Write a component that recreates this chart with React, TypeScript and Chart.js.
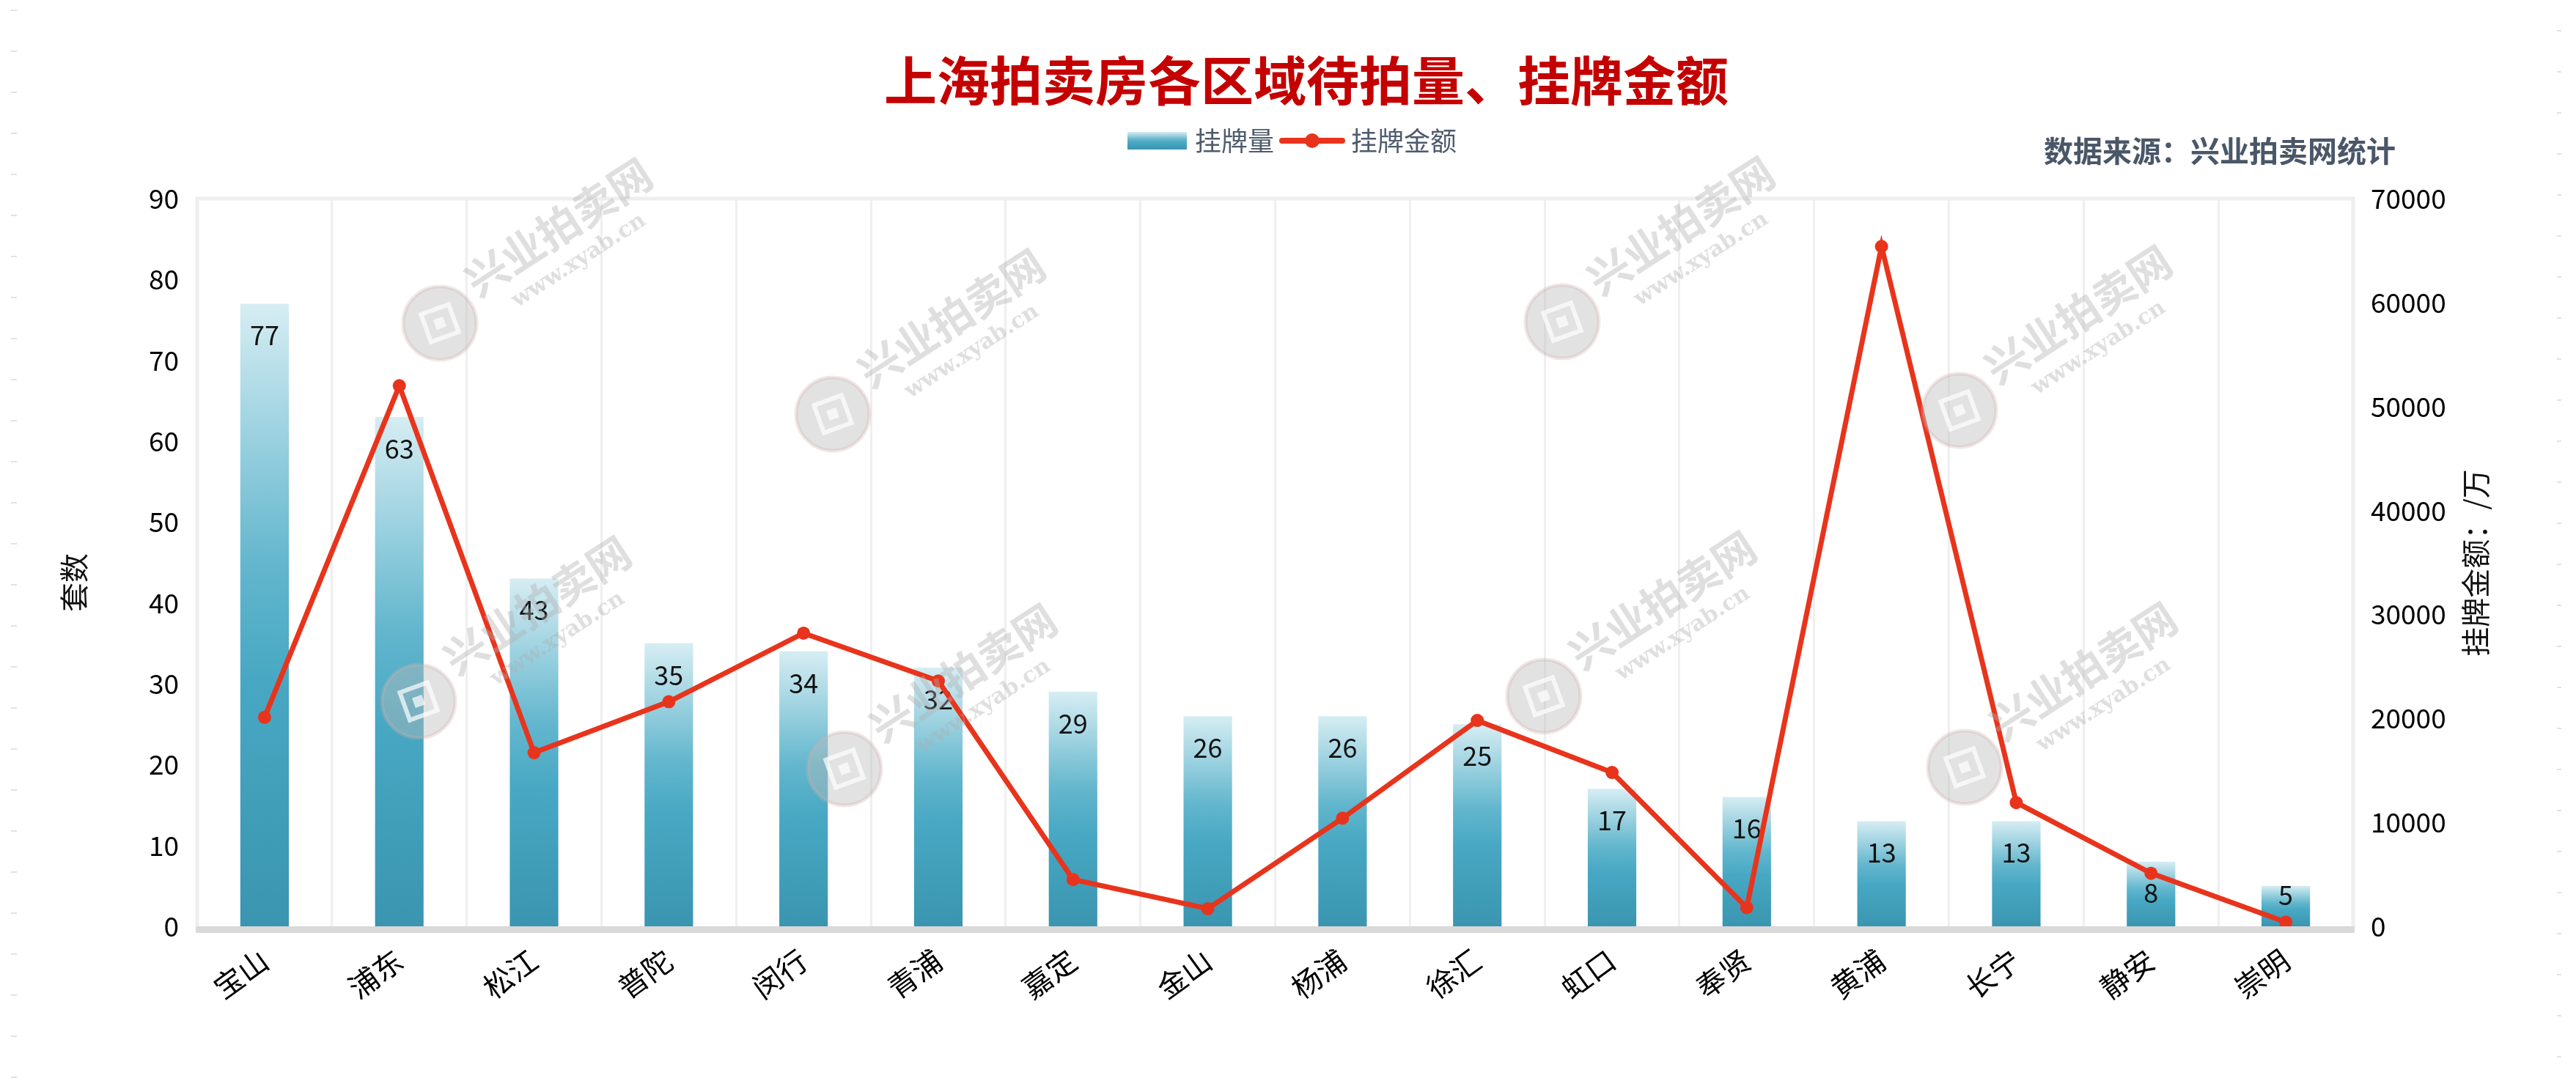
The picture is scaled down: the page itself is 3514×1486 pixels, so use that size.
import React, { useEffect, useRef } from "react";
import { Chart, registerables } from "chart.js";

Chart.register(...registerables);

// ---------- data ----------
const categories = ["宝山", "浦东", "松江", "普陀", "闵行", "青浦", "嘉定", "金山", "杨浦", "徐汇", "虹口", "奉贤", "黄浦", "长宁", "静安", "崇明"];
const listingCounts = [77, 63, 43, 35, 34, 32, 29, 26, 26, 25, 17, 16, 13, 13, 8, 5];
const listingAmounts = [20100, 52000, 16700, 21600, 28200, 23600, 4500, 1700, 10400, 19800, 14800, 1800, 65400, 11900, 5100, 400];
const seriesNames = ["挂牌量", "挂牌金额"];
const leftAxisMax = 90;
const leftAxisStep = 10;
const rightAxisMax = 70000;
const rightAxisStep = 10000;
const titleText = "上海拍卖房各区域待拍量、挂牌金额";
const sourceText = "数据来源：兴业拍卖网统计";
const leftAxisTitle = "套数";
const rightAxisTitle = "挂牌金额：/万";
const watermarkText = "兴业拍卖网";
const watermarkUrl = "www.xyab.cn";

const W = 3514;
const H = 1486;
const FONT = "'Noto Sans CJK SC', 'Noto Sans', sans-serif";
const LINE_COLOR = "#e8341c";

function barGradient(ctx: CanvasRenderingContext2D, top: number, bottom: number) {
  const g = ctx.createLinearGradient(0, top, 0, bottom);
  g.addColorStop(0, "#d6edf3");
  g.addColorStop(0.42, "#62b6cd");
  g.addColorStop(0.6, "#48a8c3");
  g.addColorStop(1, "#3a95b0");
  return g;
}

const decorPlugin = {
  id: "decor",
  beforeDraw(chart: any) {
    const { ctx } = chart;
    ctx.save();
    ctx.fillStyle = "#e2e2e2";
    for (let y = 13; y < H; y += 56) {
      ctx.fillRect(15, y, 8, 2);
      ctx.fillRect(3488, y + 28, 6, 2);
    }
    ctx.restore();
  },
  beforeDatasetsDraw(chart: any) {
    const { ctx, chartArea: a } = chart;
    ctx.save();
    ctx.strokeStyle = "#eeeeee";
    ctx.lineWidth = 5;
    ctx.beginPath();
    ctx.moveTo(a.left, a.bottom);
    ctx.lineTo(a.left, a.top);
    ctx.lineTo(a.right, a.top);
    ctx.lineTo(a.right, a.bottom);
    ctx.stroke();
    ctx.fillStyle = "#d9d9d9";
    ctx.fillRect(a.left - 2, a.bottom, a.right - a.left + 4, 9);
    ctx.restore();
  },
  afterDatasetDraw(chart: any, args: any) {
    if (args.index !== 0) return;
    const { ctx, chartArea: a } = chart;
    ctx.save();
    ctx.font = `36px ${FONT}`;
    ctx.fillStyle = "#111111";
    ctx.textAlign = "center";
    ctx.textBaseline = "middle";
    args.meta.data.forEach((el: any, i: number) => {
      const y = Math.min(el.y + 43, a.bottom - 43);
      ctx.fillText(String(listingCounts[i]), el.x, y);
    });
    ctx.restore();
  },
  afterDatasetsDraw(chart: any) {
    const { ctx } = chart;
    const marks = [
      [600, 441], [1136, 565], [2131, 439], [2673, 560],
      [571, 957], [1152, 1049], [2106, 950], [2680, 1047],
    ];
    ctx.save();
    marks.forEach(([x, y]) => {
      ctx.save();
      ctx.translate(x, y);
      ctx.beginPath();
      ctx.arc(0, 0, 50, 0, Math.PI * 2);
      ctx.fillStyle = "rgba(185,185,185,0.42)";
      ctx.fill();
      ctx.lineWidth = 5;
      ctx.strokeStyle = "rgba(210,175,175,0.3)";
      ctx.stroke();
      ctx.rotate(-20 * Math.PI / 180);
      ctx.beginPath();
      ctx.rect(-20, -20, 40, 40);
      ctx.lineWidth = 6;
      ctx.strokeStyle = "rgba(255,255,255,0.7)";
      ctx.stroke();
      ctx.fillStyle = "rgba(255,255,255,0.7)";
      ctx.fillRect(-7, -7, 14, 14);
      ctx.rotate(-13 * Math.PI / 180);
      ctx.fillStyle = "rgba(175,175,175,0.4)";
      ctx.font = `bold 58px ${FONT}`;
      ctx.textAlign = "left";
      ctx.textBaseline = "alphabetic";
      ctx.fillText(watermarkText, 62, 0);
      ctx.font = `bold 30px 'DejaVu Serif', serif`;
      ctx.fillText(watermarkUrl, 100, 40);
      ctx.restore();
    });
    ctx.restore();
  },
  afterDraw(chart: any) {
    const { ctx } = chart;
    ctx.save();
    // title
    ctx.fillStyle = "#c40000";
    ctx.font = `bold 72px ${FONT}`;
    ctx.textAlign = "center";
    ctx.textBaseline = "middle";
    ctx.fillText(titleText, 1782, 110);

    // legend
    const ly = 192;
    ctx.fillStyle = barGradient(ctx, 180, 204);
    ctx.fillRect(1538, 180, 81, 24);
    ctx.font = `36px ${FONT}`;
    ctx.fillStyle = "#4e5b6c";
    ctx.textAlign = "left";
    ctx.fillText(seriesNames[0], 1630, ly);
    ctx.strokeStyle = LINE_COLOR;
    ctx.lineWidth = 8;
    ctx.lineCap = "round";
    ctx.beginPath();
    ctx.moveTo(1749, ly);
    ctx.lineTo(1831, ly);
    ctx.stroke();
    ctx.beginPath();
    ctx.arc(1790, ly, 10, 0, Math.PI * 2);
    ctx.fillStyle = LINE_COLOR;
    ctx.fill();
    ctx.fillStyle = "#4e5b6c";
    ctx.fillText(seriesNames[1], 1843, ly);

    // source
    ctx.font = `bold 40px ${FONT}`;
    ctx.fillStyle = "#4a5768";
    ctx.textAlign = "right";
    ctx.fillText(sourceText, 3268, 206);

    // axis titles
    ctx.fillStyle = "#111111";
    ctx.font = `40px ${FONT}`;
    ctx.textAlign = "center";
    ctx.save();
    ctx.translate(101, 795);
    ctx.rotate(-Math.PI / 2);
    ctx.fillText(leftAxisTitle, 0, 0);
    ctx.restore();
    ctx.save();
    ctx.translate(3377, 768);
    ctx.rotate(-Math.PI / 2);
    ctx.fillText(rightAxisTitle, 0, 0);
    ctx.restore();
    ctx.restore();
  },
};

export default function App() {
  const ref = useRef<HTMLCanvasElement>(null);

  useEffect(() => {
    document.body.style.margin = "0";
    const canvas = ref.current!;
    const chart = new Chart(canvas, {
      type: "bar",
      data: {
        labels: categories,
        datasets: [
          {
            type: "bar",
            label: seriesNames[0],
            data: listingCounts,
            yAxisID: "y",
            order: 1,
            barPercentage: 0.36,
            categoryPercentage: 1,
            backgroundColor: (c: any) => {
              const chart = c.chart;
              if (!chart.chartArea || c.type !== "data") return "#48a8c3";
              const ys = chart.scales.y;
              return barGradient(chart.ctx, ys.getPixelForValue(c.raw), ys.getPixelForValue(0));
            },
          },
          {
            type: "line",
            label: seriesNames[1],
            data: listingAmounts,
            yAxisID: "y1",
            order: 0,
            borderColor: LINE_COLOR,
            backgroundColor: LINE_COLOR,
            borderWidth: 7,
            pointRadius: 9,
            pointBorderWidth: 0,
            pointBackgroundColor: LINE_COLOR,
            tension: 0,
          },
        ],
      },
      options: {
        responsive: false,
        animation: false,
        devicePixelRatio: 1,
        layout: { padding: { top: 271, left: 0, right: 0, bottom: 0 } },
        plugins: {
          legend: { display: false },
          title: { display: false },
          tooltip: { enabled: false },
        },
        scales: {
          x: {
            offset: true,
            grid: { display: true, offset: true, color: "#efefef", lineWidth: 3, drawTicks: false },
            border: { display: false },
            ticks: {
              autoSkip: false,
              maxRotation: 36,
              minRotation: 36,
              padding: 22,
              color: "#000000",
              font: { family: FONT, size: 40 },
            },
            afterFit: (s: any) => { s.height = H - 1264; },
          },
          y: {
            position: "left",
            min: 0,
            max: leftAxisMax,
            grid: { display: false, drawTicks: false },
            border: { display: false },
            ticks: {
              stepSize: leftAxisStep,
              padding: 25,
              color: "#000000",
              font: { family: FONT, size: 37 },
              callback: (v: any) => String(v),
            },
            afterFit: (s: any) => { s.width = 269; },
          },
          y1: {
            position: "right",
            min: 0,
            max: rightAxisMax,
            grid: { display: false, drawTicks: false },
            border: { display: false },
            ticks: {
              stepSize: rightAxisStep,
              padding: 24,
              color: "#000000",
              font: { family: FONT, size: 37 },
              callback: (v: any) => String(v),
            },
            afterFit: (s: any) => { s.width = W - 3210; },
          },
        },
      },
      plugins: [decorPlugin],
    });
    return () => chart.destroy();
  }, []);

  return (
    <div style={{ position: "fixed", left: 0, top: 0, width: W, height: H, background: "#ffffff" }}>
      <canvas ref={ref} width={W} height={H} style={{ width: W, height: H, display: "block" }} />
    </div>
  );
}
